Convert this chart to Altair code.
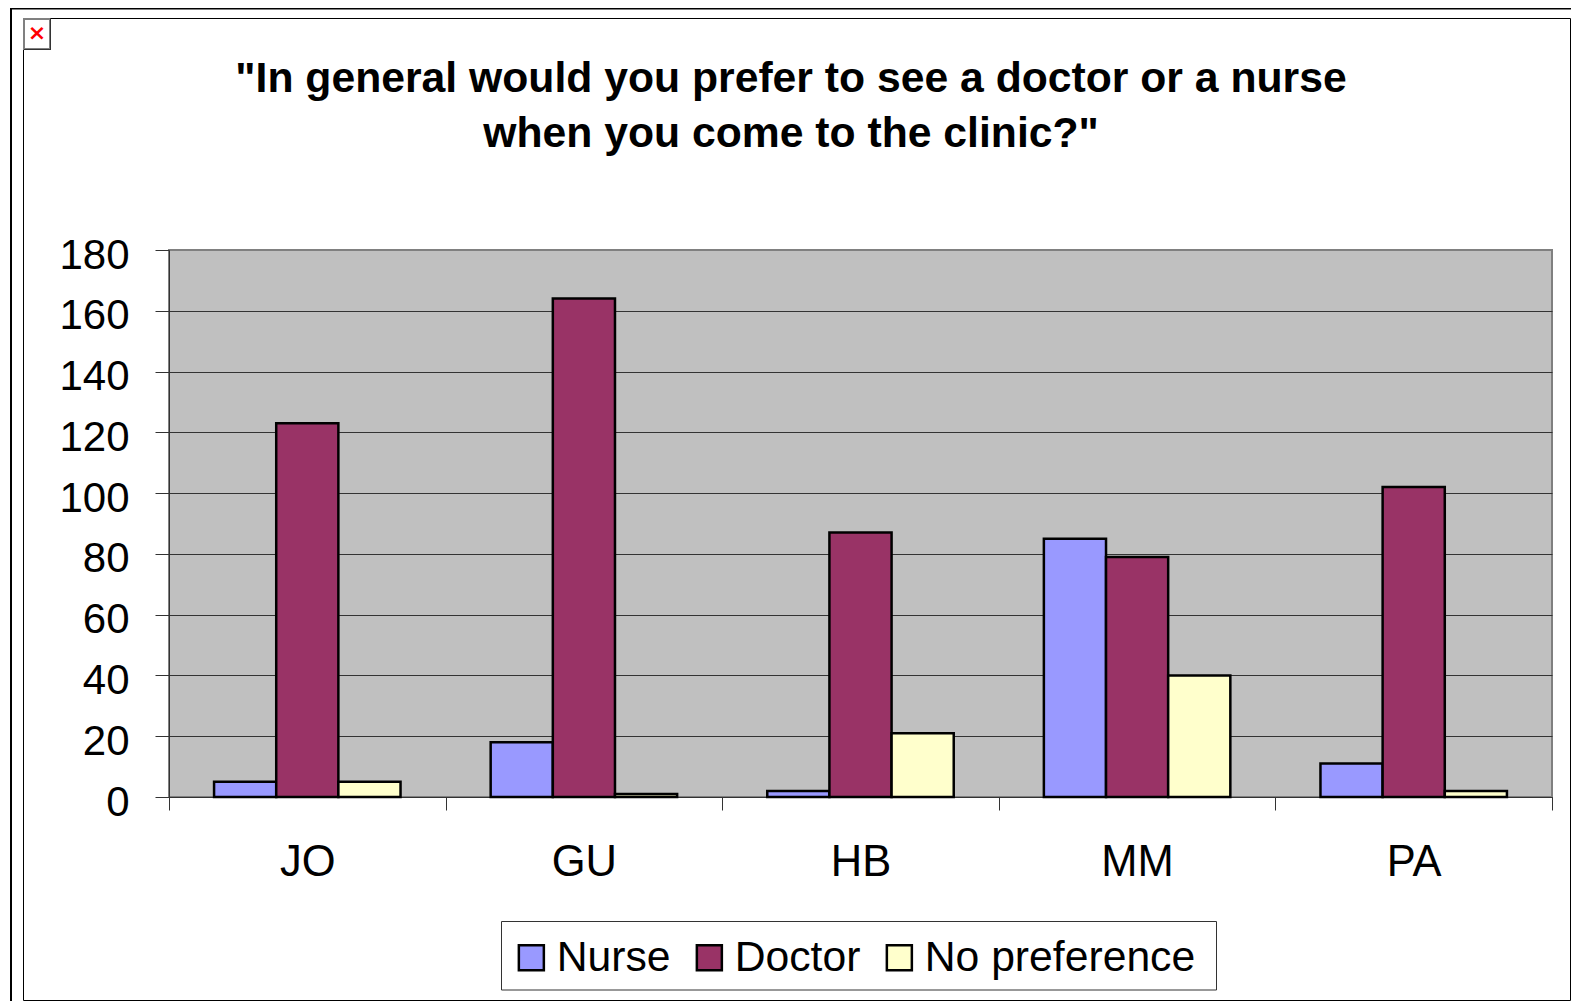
import altair as alt
import pandas as pd

sites = ["JO", "GU", "HB", "MM", "PA"]
series = ["Nurse", "Doctor", "No preference"]
nurse = [5, 18, 2, 85, 11]
doctor = [123, 164, 87, 79, 102]
no_pref = [5, 1, 21, 40, 2]
colors = ["#9999FF", "#993366", "#FFFFCC"]
title_lines = ['"In general would you prefer to see a doctor or a nurse',
               'when you come to the clinic?"']

rows = []
for name, vals in zip(series, [nurse, doctor, no_pref]):
    for s, v in zip(sites, vals):
        rows.append({"site": s, "series": name, "value": v})
df = pd.DataFrame(rows)
one = pd.DataFrame({"a": [0]})
FONT = "Liberation Sans"

# page pixel -> plot pixel
OX, OY = 169, 250


def box(x0, x1, y0, y1, **kw):
    return alt.Chart(one).mark_rect(**kw).encode(
        x=alt.value(x0 - OX), x2=alt.value(x1 - OX),
        y=alt.value(y0 - OY), y2=alt.value(y1 - OY))


outer = box(11, 1600, 8.5, 1100, fillOpacity=0, stroke="black", strokeWidth=2)
inner = box(23.5, 1570.5, 18.5, 1000.5, fillOpacity=0, stroke="black", strokeWidth=1)
icon = box(24, 50, 19, 49, fill="white", stroke="#808080", strokeWidth=2)
icon_edge = box(50, 51, 18, 50, fill="#333333")
icon_edge2 = box(24, 51, 49, 50, fill="#333333")
legend_box = box(501.5, 1216.5, 921.5, 990, fill="white", stroke="#333333", strokeWidth=1)
icon_x = alt.Chart(one).mark_text(
    text="×", font="DejaVu Sans", fontWeight="bold", fontSize=22, color="#FF0000",
    align="center", baseline="middle"
).encode(x=alt.value(37 - OX), y=alt.value(33 - OY))
title = alt.Chart(one).mark_text(
    text=title_lines, font=FONT, fontSize=42.7, fontWeight="bold", color="black",
    align="center", baseline="alphabetic", lineHeight=55
).encode(x=alt.value(791 - OX), y=alt.value(92 - OY))

bars = alt.Chart(df).mark_bar(stroke="black", strokeWidth=2.5, clip=False).encode(
    x=alt.X("site:N", sort=sites, title=None,
            scale=alt.Scale(paddingInner=0, paddingOuter=0),
            axis=alt.Axis(labelAngle=0, tickBand="extent", tickSize=13, tickColor="#333333",
                          domainColor="#333333", labelFontSize=43.5, labelFont=FONT,
                          labelColor="black", labelPadding=31, grid=False)),
    xOffset=alt.XOffset("series:N", sort=series,
                        scale=alt.Scale(paddingInner=0, paddingOuter=0.725)),
    y=alt.Y("value:Q", title=None,
            scale=alt.Scale(domain=[0, 180], nice=False),
            axis=alt.Axis(values=list(range(0, 181, 20)), tickSize=14, tickColor="#333333",
                          domainColor="#333333", labelFontSize=42, labelFont=FONT,
                          labelColor="black", labelPadding=26, labelOffset=5,
                          grid=True, gridWidth=1,
                          gridColor={"condition": {"test": "datum.value === 180", "value": "#808080"},
                                     "value": "#333333"})),
    color=alt.Color("series:N", sort=series,
                    scale=alt.Scale(domain=series, range=colors),
                    legend=alt.Legend(orient="none", legendX=332, legendY=673, title=None,
                                      direction="horizontal", columns=3, columnPadding=20,
                                      padding=13,
                                      symbolType="square", symbolSize=625, symbolOffset=-4,
                                      symbolStrokeColor="black", symbolStrokeWidth=2.5,
                                      labelFont=FONT, labelFontSize=42.7, labelColor="black",
                                      labelOffset=4, labelLimit=400)),
)

chart = alt.layer(outer, inner, icon, icon_edge, icon_edge2, icon_x, title, legend_box, bars).properties(
    width=1383, height=547,
    autosize=alt.AutoSizeParams(type="none"),
    padding={"left": 161, "top": 242, "right": 19, "bottom": 204},
    background="white",
).configure_view(fill="#C0C0C0", stroke="#808080", strokeWidth=2)

chart.save("out.html", embed_options={"renderer": "svg", "actions": False})
